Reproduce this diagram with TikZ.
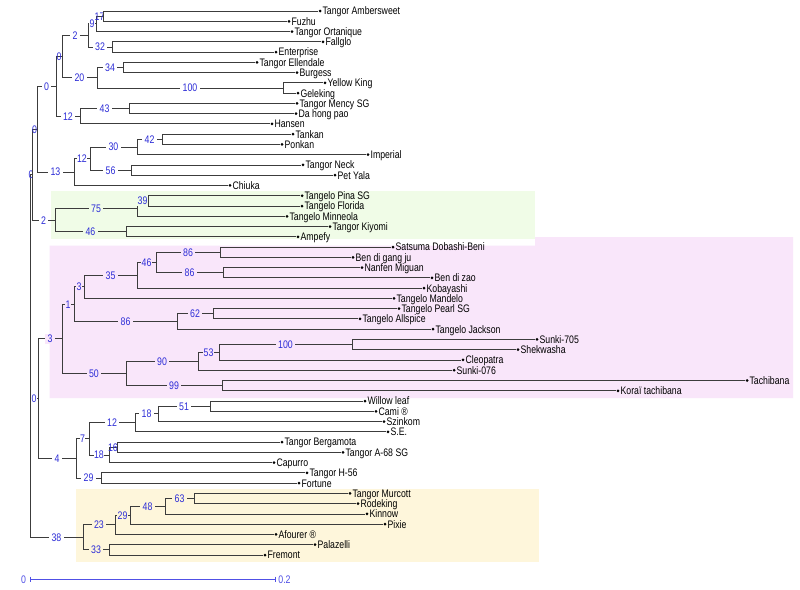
\documentclass[tikz,border=0pt]{standalone}
\usepackage{fontspec}
\newfontfamily\arialn[FakeStretch=0.8]{Liberation Sans}
\definecolor{brc}{RGB}{60,60,60}
\definecolor{blc}{RGB}{45,45,215}
\definecolor{scc}{RGB}{80,80,230}
\definecolor{gbg}{RGB}{240,252,231}
\definecolor{pbg}{RGB}{249,230,250}
\definecolor{ybg}{RGB}{254,246,219}
\newcommand\lfn[4]{\node[dot] (#1) at (#2,#3) {}; \node[leaf] (#1-txt) at ([xshift=2.4pt]#1.center) {#4};}
\begin{document}
\begin{tikzpicture}[x=1pt,y=-1pt,
  br/.style={draw=brc, line width=0.85pt},
  dot/.style={circle, fill=black, inner sep=0pt, minimum size=3pt},
  leaf/.style={anchor=west, inner sep=0pt, font=\arialn\fontsize{10.9}{12}\selectfont, text height=7.8pt, text depth=0pt},
  bl/.style={font=\arialn\fontsize{11}{12}\selectfont, text=blc, inner xsep=2.5pt, inner ysep=0.8pt, text height=7.9pt, text depth=0pt, fill=white},
  blS/.style={bl, inner xsep=0.4pt},
  blN/.style={bl, fill=none, inner xsep=0pt},
  sc/.style={font=\arialn\fontsize{11}{12}\selectfont, text=scc, inner sep=0pt, text height=7.9pt, text depth=0pt}]
\useasboundingbox[fill=white] (0,0) rectangle (800,589);
% background boxes
\fill[gbg] (51,190.5) rectangle (535,239);
\fill[pbg] (49.5,245.5) -- (535,245.5) -- (535,237) -- (793,237) -- (793,398) -- (49.5,398) -- cycle;
\fill[ybg] (76,489.3) rectangle (538.5,561.7);
% leaves
\lfn{amb}{320}{11}{Tangor Ambersweet}
\lfn{fuz}{289}{21.26}{Fuzhu}
\lfn{ort}{292}{31.53}{Tangor Ortanique}
\lfn{fal}{323}{41.79}{Fallglo}
\lfn{ent}{276}{52.06}{Enterprise}
\lfn{ell}{257}{62.32}{Tangor Ellendale}
\lfn{bur}{297}{72.58}{Burgess}
\lfn{yk}{325}{82.85}{Yellow King}
\lfn{gel}{298}{93.11}{Geleking}
\lfn{men}{297}{103.38}{Tangor Mency SG}
\lfn{dhp}{296}{113.64}{Da hong pao}
\lfn{han}{272}{123.90}{Hansen}
\lfn{tan}{293}{134.17}{Tankan}
\lfn{pon}{282}{144.43}{Ponkan}
\lfn{imp}{368}{154.70}{Imperial}
\lfn{nec}{303}{164.96}{Tangor Neck}
\lfn{pet}{335}{175.22}{Pet Yala}
\lfn{chi}{230}{185.49}{Chiuka}
\lfn{pin}{302}{195.75}{Tangelo Pina SG}
\lfn{flo}{302}{206.02}{Tangelo Florida}
\lfn{min}{287}{216.28}{Tangelo Minneola}
\lfn{kiy}{330}{226.54}{Tangor Kiyomi}
\lfn{amp}{298}{236.81}{Ampefy}
\lfn{sat}{393}{247.07}{Satsuma Dobashi-Beni}
\lfn{bgj}{353}{257.34}{Ben di gang ju}
\lfn{nan}{362}{267.60}{Nanfen Miguan}
\lfn{bdz}{432}{277.86}{Ben di zao}
\lfn{kob}{424}{288.13}{Kobayashi}
\lfn{man}{394}{298.39}{Tangelo Mandelo}
\lfn{pea}{399}{308.66}{Tangelo Pearl SG}
\lfn{als}{360}{318.92}{Tangelo Allspice}
\lfn{jac}{433}{329.18}{Tangelo Jackson}
\lfn{skA}{537}{339.45}{Sunki-705}
\lfn{shk}{518}{349.71}{Shekwasha}
\lfn{cle}{463}{359.98}{Cleopatra}
\lfn{skB}{454}{370.24}{Sunki-076}
\lfn{tac}{747}{380.50}{Tachibana}
\lfn{kor}{618}{390.77}{Koraï tachibana}
\lfn{wil}{365}{401.03}{Willow leaf}
\lfn{cam}{376}{411.30}{Cami ®}
\lfn{szi}{384}{421.56}{Szinkom}
\lfn{sse}{388}{431.82}{S.E.}
\lfn{ber}{282}{442.09}{Tangor Bergamota}
\lfn{asg}{343}{452.35}{Tangor A-68 SG}
\lfn{cap}{274}{462.62}{Capurro}
\lfn{hfs}{307}{472.88}{Tangor H-56}
\lfn{frt}{299}{483.14}{Fortune}
\lfn{mur}{350}{493.41}{Tangor Murcott}
\lfn{rod}{358}{503.67}{Rodeking}
\lfn{kin}{367}{513.94}{Kinnow}
\lfn{pix}{385}{524.20}{Pixie}
\lfn{afo}{276}{534.46}{Afourer ®}
\lfn{pal}{315}{544.73}{Palazelli}
\lfn{fre}{265}{555.00}{Fremont}
% internal nodes
\coordinate (root) at (30,355);
\coordinate (n0r) at (32,174.67);
\coordinate (n0a) at (37,129.2);
\coordinate (n0b) at (56,86.38);
\coordinate (n0c) at (62,56.55);
\coordinate (n2a) at (88,35.38);
\coordinate (n9) at (96,23.83);
\coordinate (n17) at (103,16.13);
\coordinate (n32) at (112,46.93);
\coordinate (n20) at (97,77.72);
\coordinate (n34) at (123,67.45);
\coordinate (n100a) at (283,87.98);
\coordinate (n12a) at (80,116.2);
\coordinate (n43) at (129,108.51);
\coordinate (n13) at (74,172.02);
\coordinate (n12b) at (90,158.55);
\coordinate (n30) at (137,147.0);
\coordinate (n42) at (162,139.3);
\coordinate (n56) at (131,170.09);
\coordinate (n2b) at (55,220.13);
\coordinate (n75) at (137,208.58);
\coordinate (n39) at (148,200.89);
\coordinate (n46a) at (126,231.68);
\coordinate (n0m) at (38,398.63);
\coordinate (n3a) at (62,338.81);
\coordinate (n1) at (74,304.17);
\coordinate (n3b) at (84,286.85);
\coordinate (n35) at (137,275.3);
\coordinate (n46b) at (156,262.47);
\coordinate (n86a) at (220,252.2);
\coordinate (n86b) at (223,272.73);
\coordinate (n86c) at (177,321.49);
\coordinate (n62) at (213,313.79);
\coordinate (n50) at (126,373.45);
\coordinate (n90) at (198,361.26);
\coordinate (n53) at (219,352.28);
\coordinate (n100b) at (352,344.58);
\coordinate (n99) at (222,385.64);
\coordinate (n4) at (76,458.45);
\coordinate (n7) at (89,438.88);
\coordinate (n12c) at (135,422.84);
\coordinate (n18a) at (158,413.86);
\coordinate (n51) at (210,406.17);
\coordinate (n18b) at (109,454.92);
\coordinate (n16) at (117,447.22);
\coordinate (n29a) at (101,478.01);
\coordinate (n38) at (83,537.35);
\coordinate (n23) at (115,524.84);
\coordinate (n29b) at (130,515.22);
\coordinate (n48) at (165,506.24);
\coordinate (n63) at (194,498.54);
\coordinate (n33) at (109,549.87);
% branches
\draw[br] (root) |- node[blN,pos=0.75]{0} (n0r);
\draw[br] (root) |- node[blS,pos=0.75]{0} (n0m);
\draw[br] (root) |- node[bl,pos=0.75]{38} (n38);
\draw[br] (n0r) |- node[blN,pos=0.75]{0} (n0a);
\draw[br] (n0r) |- node[bl,pos=0.75]{2} (n2b);
\draw[br] (n0a) |- node[bl,pos=0.75]{0} (n0b);
\draw[br] (n0a) |- node[bl,pos=0.75]{13} (n13);
\draw[br] (n0b) |- node[blN,pos=0.75]{0} (n0c);
\draw[br] (n0b) |- node[bl,pos=0.75]{12} (n12a);
\draw[br] (n0c) |- node[bl,pos=0.75]{2} (n2a);
\draw[br] (n0c) |- node[bl,pos=0.75]{20} (n20);
\draw[br] (n2a) |- node[blS,pos=0.75]{9} (n9);
\draw[br] (n2a) |- node[bl,pos=0.75]{32} (n32);
\draw[br] (n9) |- node[blN,pos=0.75]{17} (n17);
\draw[br] (n9) |- (ort);
\draw[br] (n17) |- (amb);
\draw[br] (n17) |- (fuz);
\draw[br] (n32) |- (fal);
\draw[br] (n32) |- (ent);
\draw[br] (n20) |- node[bl,pos=0.75]{34} (n34);
\draw[br] (n20) |- node[bl,pos=0.75]{100} (n100a);
\draw[br] (n34) |- (ell);
\draw[br] (n34) |- (bur);
\draw[br] (n100a) |- (yk);
\draw[br] (n100a) |- (gel);
\draw[br] (n12a) |- node[bl,pos=0.75]{43} (n43);
\draw[br] (n12a) |- (han);
\draw[br] (n43) |- (men);
\draw[br] (n43) |- (dhp);
\draw[br] (n13) |- node[blS,pos=0.75]{12} (n12b);
\draw[br] (n13) |- (chi);
\draw[br] (n12b) |- node[bl,pos=0.75]{30} (n30);
\draw[br] (n12b) |- node[bl,pos=0.75]{56} (n56);
\draw[br] (n30) |- node[bl,pos=0.75]{42} (n42);
\draw[br] (n30) |- (imp);
\draw[br] (n42) |- (tan);
\draw[br] (n42) |- (pon);
\draw[br] (n56) |- (nec);
\draw[br] (n56) |- (pet);
\draw[br] (n2b) |- node[bl,fill=gbg,pos=0.75]{75} (n75);
\draw[br] (n2b) |- node[bl,fill=gbg,pos=0.75]{46} (n46a);
\draw[br] (n75) |- node[blS,fill=gbg,pos=0.75]{39} (n39);
\draw[br] (n75) |- (min);
\draw[br] (n39) |- (pin);
\draw[br] (n39) |- (flo);
\draw[br] (n46a) |- (kiy);
\draw[br] (n46a) |- (amp);
\draw[br] (n0m) |- node[bl,fill=pbg,pos=0.75]{3} (n3a);
\draw[br] (n0m) |- node[bl,pos=0.75]{4} (n4);
\draw[br] (n3a) |- node[blS,fill=pbg,pos=0.75]{1} (n1);
\draw[br] (n3a) |- node[bl,fill=pbg,pos=0.75]{50} (n50);
\draw[br] (n1) |- node[blS,fill=pbg,pos=0.75]{3} (n3b);
\draw[br] (n1) |- node[bl,fill=pbg,pos=0.75]{86} (n86c);
\draw[br] (n3b) |- node[bl,fill=pbg,pos=0.75]{35} (n35);
\draw[br] (n3b) |- (man);
\draw[br] (n35) |- node[blS,fill=pbg,pos=0.75]{46} (n46b);
\draw[br] (n35) |- (kob);
\draw[br] (n46b) |- node[bl,fill=pbg,pos=0.75]{86} (n86a);
\draw[br] (n46b) |- node[bl,fill=pbg,pos=0.75]{86} (n86b);
\draw[br] (n86a) |- (sat);
\draw[br] (n86a) |- (bgj);
\draw[br] (n86b) |- (nan);
\draw[br] (n86b) |- (bdz);
\draw[br] (n86c) |- node[bl,fill=pbg,pos=0.75]{62} (n62);
\draw[br] (n86c) |- (jac);
\draw[br] (n62) |- (pea);
\draw[br] (n62) |- (als);
\draw[br] (n50) |- node[bl,fill=pbg,pos=0.75]{90} (n90);
\draw[br] (n50) |- node[bl,fill=pbg,pos=0.75]{99} (n99);
\draw[br] (n90) |- node[blS,fill=pbg,pos=0.75]{53} (n53);
\draw[br] (n90) |- (skB);
\draw[br] (n53) |- node[bl,fill=pbg,pos=0.75]{100} (n100b);
\draw[br] (n53) |- (cle);
\draw[br] (n100b) |- (skA);
\draw[br] (n100b) |- (shk);
\draw[br] (n99) |- (tac);
\draw[br] (n99) |- (kor);
\draw[br] (n4) |- node[blS,pos=0.75]{7} (n7);
\draw[br] (n4) |- node[bl,pos=0.75]{29} (n29a);
\draw[br] (n7) |- node[bl,pos=0.75]{12} (n12c);
\draw[br] (n7) |- node[blS,pos=0.75]{18} (n18b);
\draw[br] (n12c) |- node[bl,pos=0.75]{18} (n18a);
\draw[br] (n12c) |- (sse);
\draw[br] (n18a) |- node[bl,pos=0.75]{51} (n51);
\draw[br] (n18a) |- (szi);
\draw[br] (n51) |- (wil);
\draw[br] (n51) |- (cam);
\draw[br] (n18b) |- node[blN,pos=0.75]{16} (n16);
\draw[br] (n18b) |- (cap);
\draw[br] (n16) |- (ber);
\draw[br] (n16) |- (asg);
\draw[br] (n29a) |- (hfs);
\draw[br] (n29a) |- (frt);
\draw[br] (n38) |- node[bl,fill=ybg,pos=0.75]{23} (n23);
\draw[br] (n38) |- node[bl,fill=ybg,pos=0.75]{33} (n33);
\draw[br] (n23) |- node[blS,fill=ybg,pos=0.75]{29} (n29b);
\draw[br] (n23) |- (afo);
\draw[br] (n29b) |- node[bl,fill=ybg,pos=0.75]{48} (n48);
\draw[br] (n29b) |- (pix);
\draw[br] (n48) |- node[bl,fill=ybg,pos=0.75]{63} (n63);
\draw[br] (n48) |- (kin);
\draw[br] (n63) |- (mur);
\draw[br] (n63) |- (rod);
\draw[br] (n33) |- (pal);
\draw[br] (n33) |- (fre);
% scale bar
\coordinate (sca) at (30,579.3);
\coordinate (scb) at (275,579.3);
\node[sc] (sl0) at (23.5,579.3) {0};
\node[sc] (sl1) at (284.5,579.3) {0.2};
\draw[scc, line width=0.9pt] (sca) -- (scb);
\draw[scc, line width=0.9pt] ([yshift=2.7pt]sca) -- ([yshift=-2.7pt]sca);
\draw[scc, line width=0.9pt] ([yshift=2.7pt]scb) -- ([yshift=-2.7pt]scb);
\end{tikzpicture}
\end{document}
